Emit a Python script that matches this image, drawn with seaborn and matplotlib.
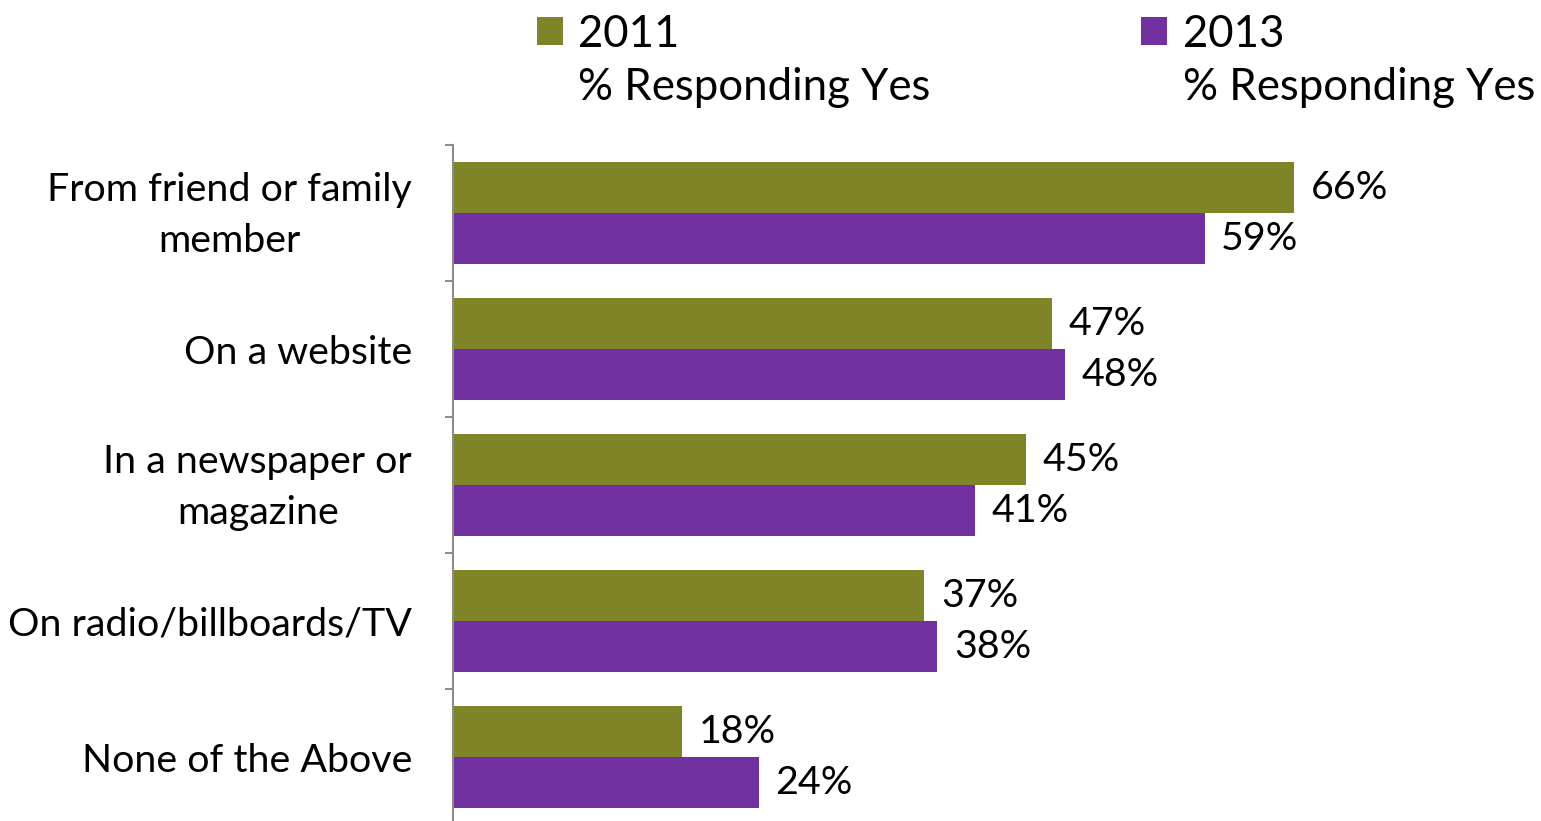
import numpy as np
import pandas as pd
import matplotlib
matplotlib.use("Agg")
import matplotlib.pyplot as plt
import matplotlib.transforms as mtransforms
import seaborn as sns

categories = ["From friend or family\nmember", "On a website", "In a newspaper or\nmagazine",
              "On radio/billboards/TV", "None of the Above"]
values_2011 = [66, 47, 45, 37, 18]
values_2013 = [59, 48, 41, 38, 24]
years = ["2011", "2013"]
subtitle = "% Responding Yes"
colors = ["#7F8427", "#7030A0"]

df = pd.DataFrame({
    "category": categories * 2,
    "value": values_2011 + values_2013,
    "year": [years[0]] * len(categories) + [years[1]] * len(categories),
})

sns.set_theme(style="white")
plt.rcParams["font.family"] = ["Lato", "DejaVu Sans"]
plt.rcParams["text.color"] = "black"

W, H = 1541, 821
fig = plt.figure(figsize=(W / 100, H / 100), dpi=100)
ax = fig.add_axes([453 / W, -4 / H, (W - 453) / W, 680 / H])

sns.barplot(data=df, y="category", x="value", hue="year", order=categories, hue_order=years,
            palette=colors, width=0.75, orient="h", ax=ax, linewidth=0, saturation=1, legend=True)

ax.set_xlim(0, 85.4)
ax.set_ylim(4.5, -0.5)
ax.set_xlabel("")
ax.set_ylabel("")
ax.set_xticks([])
for s in ["top", "right", "bottom"]:
    ax.spines[s].set_visible(False)
ax.spines["left"].set_color("#8c8c8c")
ax.spines["left"].set_linewidth(1.5)

fs = 28.4
ax.tick_params(axis="y", which="major", left=False, length=0, pad=29.5, labelsize=fs, labelcolor="black")
ax.set_yticks(np.arange(-0.5, len(categories), 1.0), minor=True)
ax.tick_params(axis="y", which="minor", left=True, length=6, width=1.5, color="#8c8c8c", direction="out")
shift_up = mtransforms.ScaledTranslation(0, 9 / 100, fig.dpi_scale_trans)
for lab in ax.get_yticklabels():
    lab.set_multialignment("center")
    lab.set_linespacing(1.55)
    if "\n" in lab.get_text():
        lab.set_transform(lab.get_transform() + shift_up)

down = mtransforms.ScaledTranslation(0, -3 / 100, fig.dpi_scale_trans)
for cont, vals in zip(ax.containers, [values_2011, values_2013]):
    texts = ax.bar_label(cont, labels=[f"{v}%" for v in vals], padding=12, fontsize=fs, color="black")
    for t in texts:
        t.set_transform(t.get_transform() + down)

lfs = 31.5
sns.move_legend(ax, "upper left", bbox_to_anchor=(506 / W, 1 + 17 / H), bbox_transform=fig.transFigure,
                ncol=2, frameon=False, title=None, fontsize=lfs, handlelength=0.6, handleheight=0.6,
                handletextpad=0.35, columnspacing=10.55, borderpad=0.2)
leg = ax.get_legend()
for t in leg.get_texts():
    t.set_color("black")

fig.canvas.draw()
inv = fig.transFigure.inverted()
for t in leg.get_texts():
    bb = t.get_window_extent()
    x0 = inv.transform((bb.x0, 0))[0]
    fig.text(x0, 1 - 87 / H, subtitle, fontsize=lfs, va="center", ha="left", color="black")

fig.savefig("out.png", dpi=100)
